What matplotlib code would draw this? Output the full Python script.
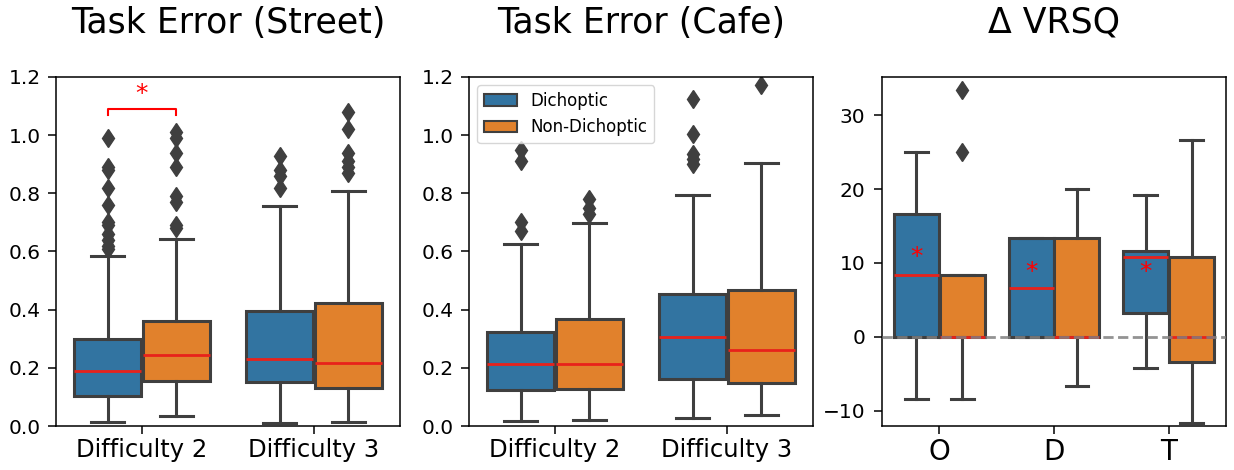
import matplotlib
matplotlib.use("Agg")
import matplotlib.pyplot as plt
from matplotlib.patches import Patch

# ---------------- data ----------------
hues = ["Dichoptic", "Non-Dichoptic"]
colors = ["#3274a1", "#e1812c"]

street_cats = ["Difficulty 2", "Difficulty 3"]
# per category: [dichoptic, non-dichoptic]; each (whislo, q1, med, q3, whishi)
street_stats = [
    [(0.014, 0.102, 0.189, 0.300, 0.585), (0.033, 0.155, 0.243, 0.360, 0.644)],
    [(0.011, 0.151, 0.232, 0.395, 0.756), (0.014, 0.132, 0.217, 0.424, 0.808)],
]
street_fliers = [
    [[0.99, 0.89, 0.88, 0.82, 0.76, 0.70, 0.69, 0.66, 0.64, 0.62, 0.61],
     [1.01, 0.99, 0.94, 0.89, 0.79, 0.77, 0.69, 0.68]],
    [[0.93, 0.88, 0.86, 0.82],
     [1.08, 1.02, 0.94, 0.91, 0.89, 0.87]],
]

cafe_cats = ["Difficulty 2", "Difficulty 3"]
cafe_stats = [
    [(0.016, 0.123, 0.214, 0.323, 0.625), (0.022, 0.128, 0.213, 0.367, 0.698)],
    [(0.028, 0.163, 0.306, 0.455, 0.793), (0.039, 0.149, 0.260, 0.469, 0.905)],
]
cafe_fliers = [
    [[0.95, 0.91, 0.70, 0.67],
     [0.78, 0.75, 0.73]],
    [[1.125, 1.003, 0.934, 0.919, 0.900],
     [1.171]],
]

vrsq_cats = ["O", "D", "T"]
vrsq_stats = [
    [(-8.38, 0.0, 8.33, 16.7, 25.1), (-8.38, 0.0, 0.0, 8.33, 8.33)],
    [(0.0, 0.0, 6.62, 13.38, 13.38), (-6.71, 0.0, 0.0, 13.38, 20.05)],
    [(-4.19, 3.24, 10.81, 11.67, 19.19), (-11.76, -3.42, 0.0, 10.77, 26.67)],
]
vrsq_fliers = [
    [[], [33.4, 25.0]],
    [[], []],
    [[], []],
]
vrsq_star_y = [10.86, 8.74, 8.74]

street_sig_y = 1.09

# ---------------- drawing ----------------
fig = plt.figure(figsize=(12.34, 4.70), dpi=100)
ax_w, ax_h, ax_b = 344 / 1234, 349 / 470, 1 - 426 / 470
ax1 = fig.add_axes([56 / 1234, ax_b, ax_w, ax_h])
ax2 = fig.add_axes([469 / 1234, ax_b, ax_w, ax_h])
ax3 = fig.add_axes([882 / 1234, ax_b, ax_w, ax_h])

edge = "#3f3f3f"
bw = 0.4


def draw(ax, cats, stats, fliers):
    for ci, cat in enumerate(cats):
        for hi in range(2):
            lo, q1, med, q3, hi_w = stats[ci][hi]
            d = dict(whislo=lo, q1=q1, med=med, q3=q3, whishi=hi_w,
                     fliers=fliers[ci][hi])
            pos = ci + (hi - 0.5) * bw
            ax.bxp([d], positions=[pos], widths=bw * 0.98, patch_artist=True,
                   showfliers=True, manage_ticks=False,
                   boxprops=dict(facecolor=colors[hi], edgecolor=edge, linewidth=2.2),
                   whiskerprops=dict(color=edge, linewidth=2.2),
                   capprops=dict(color=edge, linewidth=2.2),
                   medianprops=dict(color="#e8221b", linewidth=2.0),
                   flierprops=dict(marker="d", markerfacecolor=edge,
                                   markeredgecolor=edge, markersize=9.5))
    ax.set_xticks(range(len(cats)))
    ax.set_xticklabels(cats)
    ax.set_xlim(-0.5, len(cats) - 0.5)
    ax.tick_params(length=5.5, width=1.1, pad=5.5)
    for s in ax.spines.values():
        s.set_linewidth(1.1)


draw(ax1, street_cats, street_stats, street_fliers)
draw(ax2, cafe_cats, cafe_stats, cafe_fliers)
draw(ax3, vrsq_cats, vrsq_stats, vrsq_fliers)

for ax in (ax1, ax2):
    ax.set_ylim(0, 1.2)
    ax.set_yticks([0.0, 0.2, 0.4, 0.6, 0.8, 1.0, 1.2])
    ax.tick_params(axis="y", labelsize=14.5)
    ax.tick_params(axis="x", labelsize=17.5, pad=3.5)

ax3.set_ylim(-12.1, 35.2)
ax3.set_yticks([-10, 0, 10, 20, 30])
ax3.tick_params(axis="y", labelsize=14.5, pad=6.5)
ax3.tick_params(axis="x", labelsize=20, pad=3.5)
ax3.axhline(0, color="gray", linestyle="--", linewidth=2, alpha=0.85, zorder=5)

# significance markers
x0, x1 = -bw / 2, bw / 2
ax1.plot([x0, x0, x1, x1], [street_sig_y - 0.022, street_sig_y, street_sig_y,
                            street_sig_y - 0.022], color="red", linewidth=1.5)
ax1.text(0, street_sig_y + 0.01, "*", color="red", ha="center", va="bottom",
         fontsize=18)
for ci, yv in enumerate(vrsq_star_y):
    ax3.text(ci - bw / 2, yv, "*", color="red", ha="center", va="center",
             fontsize=18, zorder=6)

ax1.set_title("Task Error (Street)", fontsize=25, pad=32)
ax2.set_title("Task Error (Cafe)", fontsize=25, pad=32)
ax3.set_title("Δ VRSQ", fontsize=25, pad=32)

handles = [Patch(facecolor=c, edgecolor=edge, linewidth=1.5) for c in colors]
ax2.legend(handles, hues, loc="upper left", fontsize=12)

fig.savefig("out.png", dpi=100)
